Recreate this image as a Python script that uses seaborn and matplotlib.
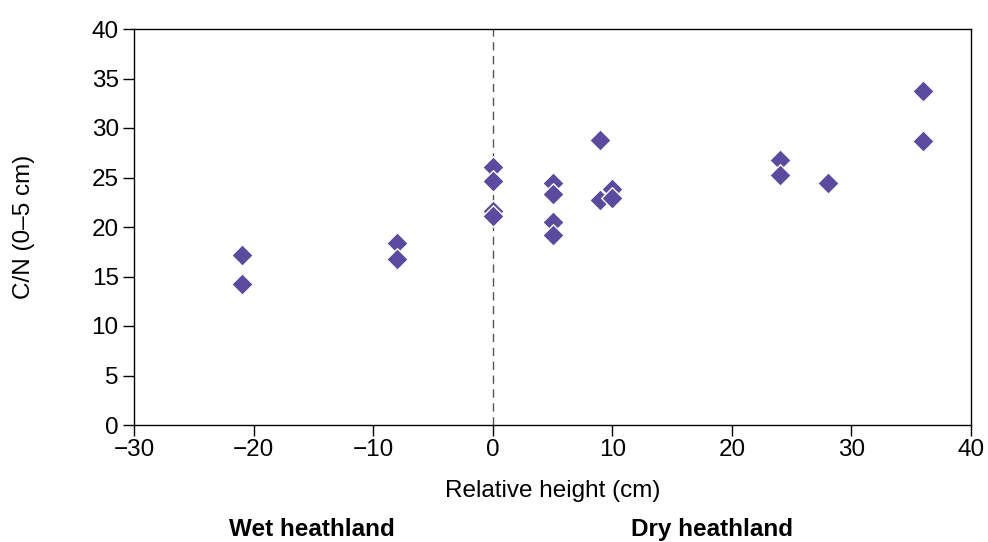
import matplotlib
matplotlib.use("Agg")
import matplotlib.pyplot as plt
import seaborn as sns
import pandas as pd

# Data
relative_height = [-21, -21, -8, -8, 0, 0, 0, 0, 5, 5, 5, 5, 9, 9, 10, 10, 24, 24, 28, 36, 36]
cn_ratio = [17.2, 14.2, 18.4, 16.8, 26.1, 24.6, 21.6, 21.1, 24.4, 23.3, 20.5, 19.2,
            28.8, 22.7, 23.8, 22.9, 26.8, 25.3, 24.4, 33.7, 28.7]
x_ticks = [-30, -20, -10, 0, 10, 20, 30, 40]
y_ticks = [0, 5, 10, 15, 20, 25, 30, 35, 40]
zone_labels = ["Wet heathland", "Dry heathland"]

df = pd.DataFrame({"Relative height (cm)": relative_height, "C/N (0–5 cm)": cn_ratio})

sns.set_theme(style="white")
plt.rcParams['font.family'] = ['Liberation Sans', 'DejaVu Sans']

fig = plt.figure(figsize=(9.88, 5.42), dpi=100)
ax = fig.add_axes([134/988, 1-425/542, (971-134)/988, (425-29)/542])

ax.axvline(0, color="#555555", linestyle=(0, (6, 4)), linewidth=1.0, zorder=1)

sns.scatterplot(data=df, x="Relative height (cm)", y="C/N (0–5 cm)", ax=ax,
                marker="D", s=120, color="#5b4a9e", edgecolor="white", linewidth=1.0,
                zorder=3, legend=False)

ax.set_xlim(-30, 40)
ax.set_ylim(0, 40)
ax.set_xticks(x_ticks)
ax.set_yticks(y_ticks)
ax.tick_params(axis="both", direction="out", length=8, width=1, color="black",
               labelsize=17.5, labelcolor="black", left=True, bottom=True, pad=3)
ax.tick_params(axis="x", pad=2)
for sp in ax.spines.values():
    sp.set_color("black")
    sp.set_linewidth(1.0)

ax.set_xlabel("Relative height (cm)", fontsize=17.5, color="black", labelpad=14)
ax.set_ylabel("C/N (0–5 cm)", fontsize=17.5, color="black", labelpad=41)

fig.text(312/988, 1-536/542, zone_labels[0], ha="center", va="baseline",
         fontsize=17.5, fontweight="bold", color="black")
fig.text(712/988, 1-536/542, zone_labels[1], ha="center", va="baseline",
         fontsize=17.5, fontweight="bold", color="black")

fig.savefig("out.png", dpi=100)
